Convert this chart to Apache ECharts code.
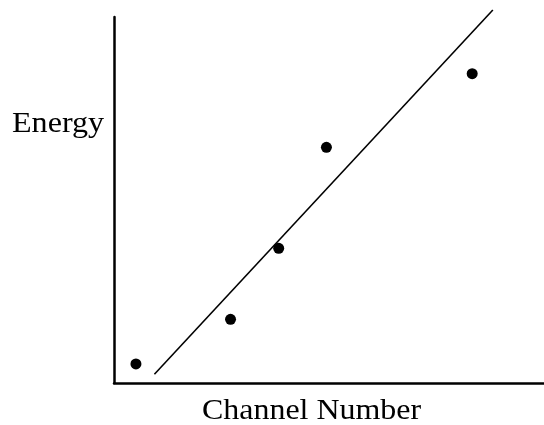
<!DOCTYPE html>
<html>
<head>
<meta charset="utf-8">
<script src="https://cdn.jsdelivr.net/npm/echarts@6/dist/echarts.min.js"></script>
<style>
  html, body { margin: 0; padding: 0; background: #fff; }
  #chart { width: 544px; height: 425px; }
</style>
</head>
<body>
<div id="chart"></div>
<script>
// Calibration points: channel number vs energy (arbitrary units)
const channels = [5.1, 27.1, 38.3, 49.4, 83.3];
const energies = [5.2, 17.4, 36.8, 64.4, 84.5];

// Straight-line fit drawn across the data (end points)
const fitChannels = [9.4, 88.1];
const fitEnergies = [2.4, 101.9];

const xLabel = 'Channel Number';
const yLabel = 'Energy';

const chart = echarts.init(document.getElementById('chart'), null, { renderer: 'canvas' });

const serif = '"Liberation Serif", "Times New Roman", serif';

chart.setOption({
  animation: false,
  backgroundColor: '#ffffff',
  grid: { left: 114, top: 17, right: 0, bottom: 42 },
  xAxis: {
    type: 'value', min: 0, max: 100,
    axisLine: { show: true, lineStyle: { color: '#000', width: 2.5 } },
    axisTick: { show: false }, axisLabel: { show: false }, splitLine: { show: false }
  },
  yAxis: {
    type: 'value', min: 0, max: 100,
    axisLine: { show: true, lineStyle: { color: '#000', width: 2.5 } },
    axisTick: { show: false }, axisLabel: { show: false }, splitLine: { show: false }
  },
  graphic: [
    {
      type: 'text', x: 12, y: 109, scaleX: 1.07,
      style: { text: yLabel, font: '30px ' + serif, fill: '#000' }
    },
    {
      type: 'text', x: 202, y: 396, scaleX: 1.065,
      style: { text: xLabel, font: '30px ' + serif, fill: '#000' }
    }
  ],
  series: [
    {
      type: 'line',
      data: fitChannels.map((c, i) => [c, fitEnergies[i]]),
      clip: false,
      symbol: 'none',
      lineStyle: { color: '#000', width: 1.6 },
      silent: true
    },
    {
      type: 'scatter',
      data: channels.map((c, i) => [c, energies[i]]),
      symbol: 'circle',
      symbolSize: 11,
      itemStyle: { color: '#000', opacity: 1 }
    }
  ]
});
</script>
</body>
</html>
